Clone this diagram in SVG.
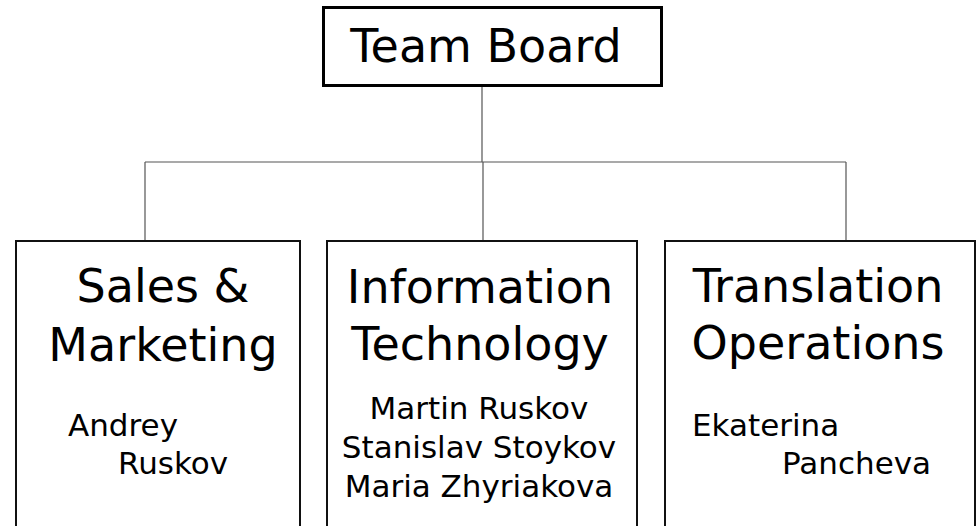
<svg xmlns="http://www.w3.org/2000/svg" width="977" height="526" viewBox="0 0 977 526">
<style>
.box{fill:#fff;stroke:#111;stroke-width:2}
.top{fill:#fff;stroke:#000;stroke-width:3}
.conn{fill:none;stroke:#555;stroke-width:1.2}
text{font-family:"DejaVu Sans",sans-serif;fill:#000}
.t{font-size:46px;text-anchor:middle}
.n{font-size:31px}
.m{font-size:31px;text-anchor:middle}
</style>
<rect width="977" height="526" fill="#fff"/>
<g id="connectors">
<path class="conn" d="M482 86V162M145 162H846M145 162V241M483 162V241M846 162V241"/>
</g>
<g id="team-board">
<rect class="top" x="323.5" y="7.5" width="338" height="78"/>
<text class="t" x="486" y="62">Team Board</text>
</g>
<g id="sales-marketing">
<rect class="box" x="16" y="241" width="284" height="300"/>
<text class="t" x="163" y="302">Sales &amp;</text>
<text class="t" x="163" y="361">Marketing</text>
<text class="n" x="68" y="436">Andrey</text>
<text class="n" x="118" y="474">Ruskov</text>
</g>
<g id="information-technology">
<rect class="box" x="327" y="241" width="310" height="300"/>
<text class="t" x="480" y="303">Information</text>
<text class="t" x="480" y="360">Technology</text>
<text class="m" x="479" y="419">Martin Ruskov</text>
<text class="m" x="479" y="458">Stanislav Stoykov</text>
<text class="m" x="479" y="497">Maria Zhyriakova</text>
</g>
<g id="translation-operations">
<rect class="box" x="665" y="241" width="310" height="300"/>
<text class="t" x="818" y="302">Translation</text>
<text class="t" x="818" y="359">Operations</text>
<text class="n" x="692" y="436">Ekaterina</text>
<text class="n" x="782" y="474">Pancheva</text>
</g>
</svg>
